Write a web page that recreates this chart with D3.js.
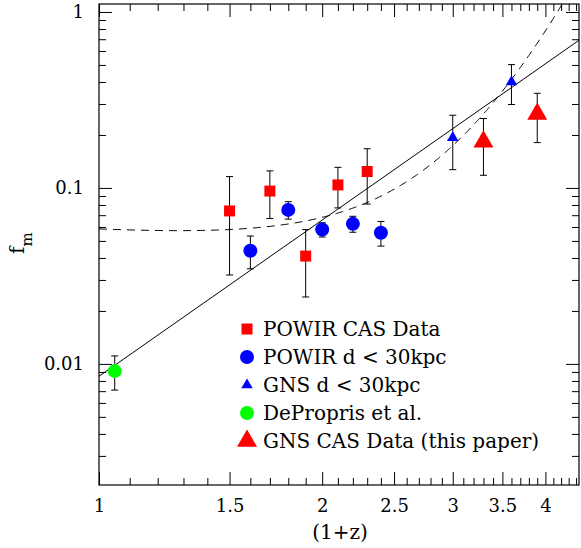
<!DOCTYPE html>
<html>
<head>
<meta charset="utf-8">
<script src="https://cdn.jsdelivr.net/npm/d3@7"></script>
<style>
body { margin: 0; background: #fff; }
text { font-family: "DejaVu Serif", serif; fill: #000; }
</style>
</head>
<body>
<svg id="chart"></svg>
<script>
const powirCasX = [1.5, 1.7, 1.9, 2.1, 2.3];
const powirCasF = [0.074, 0.096, 0.041, 0.104, 0.124];
const powirCasErr = [0.042, 0.029, 0.017, 0.027, 0.043];

const powirCloseX = [1.6, 1.8, 2.0, 2.2, 2.4];
const powirCloseF = [0.044, 0.075, 0.058, 0.0625, 0.0556];
const powirCloseErr = [0.0093, 0.0085, 0.0054, 0.0065, 0.0089];

const gnsCloseX = [3.0, 3.6];
const gnsCloseF = [0.193, 0.40];
const gnsCloseErr = [0.066, 0.102];

const depropX = [1.05];
const depropF = [0.0091];
const depropErr = [0.002];

const gnsCasX = [3.3, 3.9];
const gnsCasF = [0.183, 0.263];
const gnsCasErr = [0.065, 0.082];

const legendLabels = ["POWIR CAS Data", "POWIR d < 30kpc", "GNS d < 30kpc", "DePropris et al.", "GNS CAS Data (this paper)"];
const xTickValues = [1, 1.5, 2, 2.5, 3, 3.5, 4];
const yTickValues = [0.01, 0.1, 1];
const yTickLabels = ["0.01", "0.1", "1"];

// fits: solid f0*(1+z)^m, dashed a*(1+z)^-p + b*exp(k*(1+z))
const powerF0 = 0.0085, powerM = 2.95;
const dashA = 0.054, dashP = 0.318, dashB = 0.000821, dashK = 1.703;

const width = 581;
const height = 548;
const margin = {top: 4, right: 2, bottom: 63, left: 99};

const svg = d3.select("#chart")
    .attr("width", width)
    .attr("height", height);

const x = d3.scaleLog()
    .domain([1, 4.44])
    .range([margin.left, width - margin.right]);

const y = d3.scaleLog()
    .domain([0.00205, 1.11])
    .range([height - margin.bottom, margin.top]);

const xMinor = d3.range(11, 45).map(d => d / 10).filter(d => !xTickValues.includes(d));
const yMinor = [];
[0.001, 0.01, 0.1].forEach(dec => d3.range(2, 10).forEach(k => {
    const v = k * dec;
    if (v > y.domain()[0] && v < y.domain()[1]) yMinor.push(v);
}));

const plotBottom = y.range()[0], plotTop = y.range()[1];
const plotLeft = x.range()[0], plotRight = x.range()[1];

svg.append("clipPath")
    .attr("id", "plot-clip")
    .append("rect")
    .attr("x", plotLeft)
    .attr("y", plotTop)
    .attr("width", plotRight - plotLeft)
    .attr("height", plotBottom - plotTop);

function drawAxis(axis, tx, ty) {
    const g = svg.append("g")
        .attr("transform", `translate(${tx},${ty})`)
        .call(axis);
    g.select(".domain").remove();
    g.selectAll("line").attr("stroke", "#000").attr("stroke-width", 1);
    return g;
}

drawAxis(d3.axisBottom(x).tickValues(xMinor).tickSize(-7).tickFormat(""), 0, plotBottom);
drawAxis(d3.axisTop(x).tickValues(xMinor).tickSize(-7).tickFormat(""), 0, plotTop);
drawAxis(d3.axisTop(x).tickValues(xTickValues).tickSize(-13).tickFormat(""), 0, plotTop);
drawAxis(d3.axisLeft(y).tickValues(yMinor).tickSize(-7).tickFormat(""), plotLeft, 0);
drawAxis(d3.axisRight(y).tickValues(yMinor).tickSize(-7).tickFormat(""), plotRight, 0);
drawAxis(d3.axisRight(y).tickValues(yTickValues).tickSize(-13).tickFormat(""), plotRight, 0);

const xAxis = drawAxis(d3.axisBottom(x).tickValues(xTickValues).tickSize(-13).tickFormat(d3.format("")), 0, plotBottom);
xAxis.selectAll("text")
    .attr("y", 27)
    .attr("dy", 0)
    .attr("font-size", 18)
    .attr("font-family", "DejaVu Serif");

const yAxis = drawAxis(d3.axisLeft(y).tickValues(yTickValues).tickSize(-13).tickPadding(15)
    .tickFormat((d, i) => yTickLabels[i]), plotLeft, 0);
yAxis.selectAll("text")
    .attr("font-size", 18)
    .attr("font-family", "DejaVu Serif");

svg.append("rect")
    .attr("x", plotLeft)
    .attr("y", plotTop)
    .attr("width", plotRight - plotLeft)
    .attr("height", plotBottom - plotTop)
    .attr("fill", "none")
    .attr("stroke", "#000")
    .attr("stroke-width", 1.2);

const plot = svg.append("g").attr("clip-path", "url(#plot-clip)");

const line = d3.line()
    .x(d => x(d[0]))
    .y(d => y(d[1]));

plot.append("path")
    .datum(x.domain().map(t => [t, powerF0 * Math.pow(t, powerM)]))
    .attr("d", line)
    .attr("fill", "none")
    .attr("stroke", "#000")
    .attr("stroke-width", 1);

plot.append("path")
    .datum(d3.range(1, 4.45, 0.01).map(t => [t, dashA * Math.pow(t, -dashP) + dashB * Math.exp(dashK * t)]))
    .attr("d", line)
    .attr("fill", "none")
    .attr("stroke", "#000")
    .attr("stroke-width", 1)
    .attr("stroke-dasharray", "8,6");

const series = [
    {xs: powirCasX, fs: powirCasF, errs: powirCasErr, shape: d3.symbolSquare, size: 121, color: "#ff0000"},
    {xs: powirCloseX, fs: powirCloseF, errs: powirCloseErr, shape: d3.symbolCircle, size: 154, color: "#0000ff"},
    {xs: gnsCloseX, fs: gnsCloseF, errs: gnsCloseErr, shape: d3.symbolTriangle, size: 57, color: "#0000ff"},
    {xs: depropX, fs: depropF, errs: depropErr, shape: d3.symbolCircle, size: 154, color: "#00ff00"},
    {xs: gnsCasX, fs: gnsCasF, errs: gnsCasErr, shape: d3.symbolTriangle, size: 173, color: "#ff0000"}
];

series.forEach(s => {
    const pts = s.xs.map((v, i) => ({x: v, f: s.fs[i], e: s.errs[i]}));
    const bars = svg.append("g")
        .attr("stroke", "#000")
        .attr("stroke-width", 1)
        .selectAll("g")
        .data(pts)
        .enter()
        .append("g");
    bars.append("line")
        .attr("x1", d => x(d.x)).attr("x2", d => x(d.x))
        .attr("y1", d => y(d.f + d.e)).attr("y2", d => y(d.f - d.e));
    bars.append("line")
        .attr("x1", d => x(d.x) - 3.5).attr("x2", d => x(d.x) + 3.5)
        .attr("y1", d => y(d.f + d.e)).attr("y2", d => y(d.f + d.e));
    bars.append("line")
        .attr("x1", d => x(d.x) - 3.5).attr("x2", d => x(d.x) + 3.5)
        .attr("y1", d => y(d.f - d.e)).attr("y2", d => y(d.f - d.e));
});

series.forEach(s => {
    svg.append("g")
        .selectAll("path")
        .data(s.xs.map((v, i) => [v, s.fs[i]]))
        .enter()
        .append("path")
        .attr("d", d3.symbol().type(s.shape).size(s.size))
        .attr("transform", d => `translate(${x(d[0])},${y(d[1])})`)
        .attr("fill", s.color);
});

const legend = svg.append("g")
    .selectAll("g")
    .data(series)
    .enter()
    .append("g")
    .attr("transform", (d, i) => `translate(247,${329 + i * 28})`);

legend.append("path")
    .attr("d", d => d3.symbol().type(d.shape).size(d.size)())
    .attr("fill", d => d.color);

legend.append("text")
    .attr("x", 16)
    .attr("y", 7)
    .attr("font-size", 20)
    .text((d, i) => legendLabels[i]);

svg.append("text")
    .attr("x", (plotLeft + plotRight) / 2 + 1)
    .attr("y", 539)
    .attr("text-anchor", "middle")
    .attr("font-size", 20)
    .text("(1+z)");

const yLabel = svg.append("text")
    .attr("transform", "translate(24,254) rotate(-90)")
    .attr("font-size", 20);
yLabel.append("tspan").text("f");
yLabel.append("tspan")
    .attr("dy", 8)
    .attr("font-size", 15)
    .text("m");
</script>
</body>
</html>
